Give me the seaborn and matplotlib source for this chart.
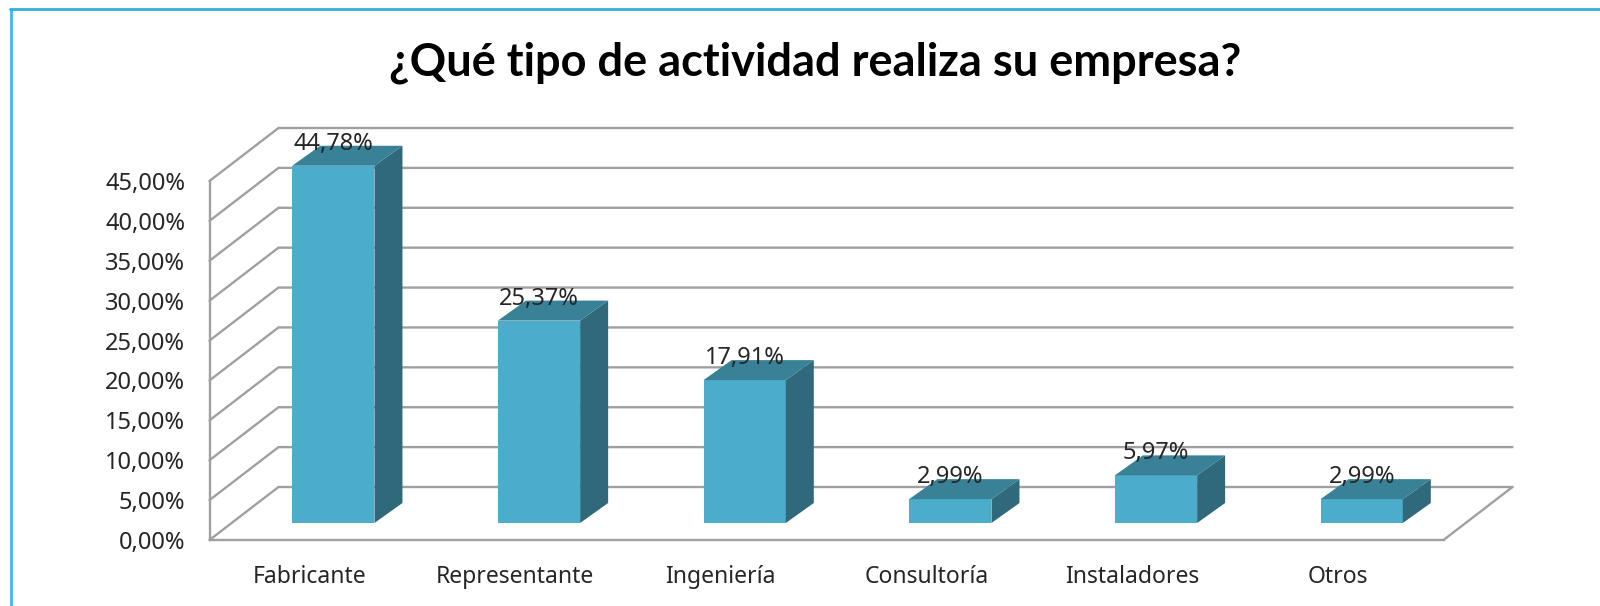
import matplotlib
matplotlib.use('Agg')
import matplotlib.pyplot as plt
import seaborn as sns
import pandas as pd
import numpy as np
from matplotlib.lines import Line2D
from matplotlib.patches import Polygon

actividad = ['Fabricante', 'Representante', 'Ingeniería', 'Consultoría', 'Instaladores', 'Otros']
porcentaje = [44.78, 25.37, 17.91, 2.99, 5.97, 2.99]
ticks_y = [0, 5, 10, 15, 20, 25, 30, 35, 40, 45]
titulo = '¿Qué tipo de actividad realiza su empresa?'

W, H = 1600, 606
FRENTE, CARA, TAPA = '#4BADC9', '#30697B', '#398196'
GRIS = '#A0A0A0'
TEXTO = '#262626'

sns.set_theme(style='white')
plt.rcParams['font.family'] = ['Noto Sans', 'DejaVu Sans']

fig = plt.figure(figsize=(W / 100, H / 100), dpi=100)


def eje(x0, y_abajo, ancho, alto):
    # posicion en pixeles de la imagen
    return fig.add_axes([x0 / W, 1 - y_abajo / H, ancho / W, alto / H])


# plano frontal con la escala real, plano de barras desplazado en profundidad
ax = eje(209.5, 540, 1234, 359)
ax_b = eje(230.5, 523, 1234, 359)
df = pd.DataFrame({'actividad': actividad, 'porcentaje': porcentaje})
sns.barplot(data=df, x='actividad', y='porcentaje', color=FRENTE, saturation=1,
            width=0.4, linewidth=0, ax=ax_b)
ax_b.set_xlim(-0.5, 5.5)
ax_b.set_ylim(0, 45)
ax_b.axis('off')
ax_b.patch.set_alpha(0)

ax.set_xlim(-0.5, 5.5)
ax.set_ylim(0, 45)
px_x, px_y = 6 / 1234, 45 / 359  # datos por pixel

# paredes: lineas de la rejilla con la perspectiva
fx, fy = 69 * px_x, 53 * px_y
for t in ticks_y:
    ax.plot([-0.5, -0.5 + fx, 5.5 + fx], [t, t + fy, t + fy], color=GRIS, lw=1.7,
            clip_on=False, solid_joinstyle='miter', zorder=1)
ax.plot([5.5, 5.5 + fx], [0, fy], color=GRIS, lw=1.7, clip_on=False, zorder=1)

# caras laterales y tapas de las barras
dx, dy = 28 * px_x, 20 * px_y
for p in list(ax_b.patches):
    x0, x1, v = p.get_x(), p.get_x() + p.get_width(), p.get_height()
    ax_b.add_patch(Polygon([(x1, 0), (x1 + dx, dy), (x1 + dx, v + dy), (x1, v)],
                           color=CARA, lw=0, clip_on=False))
    ax_b.add_patch(Polygon([(x0, v), (x0 + dx, v + dy), (x1 + dx, v + dy), (x1, v)],
                           color=TAPA, lw=0, clip_on=False))

for i, v in enumerate(porcentaje):
    ax_b.annotate(f'{v:.2f}%'.replace('.', ','), (i, v), xytext=(0, 25),
                  textcoords='offset pixels', ha='center', va='center_baseline',
                  fontsize=17, color=TEXTO, annotation_clip=False, zorder=5)

sns.despine(ax=ax, top=True, right=True)
for lado in ['left', 'bottom']:
    ax.spines[lado].set_color(GRIS)
    ax.spines[lado].set_linewidth(1.7)
ax.set_yticks(ticks_y)
ax.set_yticklabels([f'{t:.2f}%'.replace('.', ',') for t in ticks_y], fontsize=17, color=TEXTO,
                   va='center_baseline')
ax.set_xticks(np.arange(6) - 3 * px_x)
ax.set_xticklabels(actividad, fontsize=16.5, color=TEXTO)
ax.tick_params(axis='y', length=0, pad=17.5)
ax.tick_params(axis='x', length=0, pad=18)
ax.set_xlabel('')
ax.set_ylabel('')
ax.patch.set_alpha(0)

fig.text(815 / W, 1 - 63 / H, titulo, ha='center', va='center', fontsize=32.5,
         fontweight='bold', color='black', family=['Lato', 'DejaVu Sans'])

# marco del grafico: solo arriba y a la izquierda
fig.add_artist(Line2D([10.5 / W, 10.5 / W], [0, 1 - 8.5 / H], color='#3DB8EC', lw=2,
                      transform=fig.transFigure))
fig.add_artist(Line2D([10 / W, 1], [1 - 8.5 / H, 1 - 8.5 / H], color='#38ADDD', lw=2,
                      transform=fig.transFigure))

fig.savefig('out.png', dpi=100, facecolor='white')
